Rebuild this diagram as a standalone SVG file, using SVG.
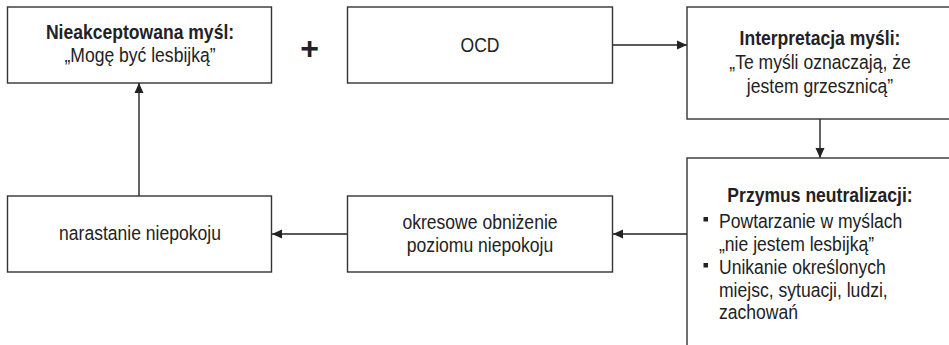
<svg xmlns="http://www.w3.org/2000/svg" width="949" height="345" viewBox="0 0 949 345">
<style>
.box{fill:#fff;stroke:#333;stroke-width:1.4}
.t{font-family:"Liberation Sans",Arial,sans-serif;font-size:19.5px;fill:#222;text-anchor:middle}
.tl{font-family:"Liberation Sans",Arial,sans-serif;font-size:19.5px;fill:#222}
.b{font-weight:bold}
.ln{stroke:#222;stroke-width:1.4;fill:none}
</style>
<defs>
<marker id="ah" markerWidth="10" markerHeight="10" refX="10" refY="5" orient="auto" markerUnits="userSpaceOnUse">
<path d="M0,0.5 L10,5 L0,9.5 Z" fill="#222"/>
</marker>
</defs>
<rect width="949" height="345" fill="#fff"/>
<g id="connectors">
<line class="ln" x1="612" y1="45" x2="687" y2="45" marker-end="url(#ah)"/>
<line class="ln" x1="820" y1="119" x2="820" y2="158" marker-end="url(#ah)"/>
<line class="ln" x1="687" y1="234" x2="613" y2="234" marker-end="url(#ah)"/>
<line class="ln" x1="347" y1="234" x2="272" y2="234" marker-end="url(#ah)"/>
<line class="ln" x1="139" y1="196" x2="139" y2="83" marker-end="url(#ah)"/>
</g>
<g id="node-thought">
<rect class="box" x="7.5" y="7" width="264" height="76"/>
<text class="t b" transform="translate(140 39) scale(0.9 1)">Nieakceptowana myśl:</text>
<text class="t" transform="translate(140 62) scale(0.9 1)">„Mogę być lesbijką”</text>
</g>
<g id="plus">
<text class="t b" x="309.5" y="59" style="font-size:32px">+</text>
</g>
<g id="node-ocd">
<rect class="box" x="347.5" y="7" width="265" height="76"/>
<text class="t" transform="translate(480 52) scale(0.9 1)">OCD</text>
</g>
<g id="node-interpretation">
<rect class="box" x="687" y="7" width="266" height="112"/>
<text class="t b" transform="translate(820 45) scale(0.9 1)">Interpretacja myśli:</text>
<text class="t" transform="translate(820 69) scale(0.9 1)">„Te myśli oznaczają, że</text>
<text class="t" transform="translate(820 93) scale(0.9 1)">jestem grzesznicą”</text>
</g>
<g id="node-compulsion">
<rect class="box" x="687" y="158" width="266" height="200"/>
<text class="t b" transform="translate(820 202) scale(0.9 1)">Przymus neutralizacji:</text>
<rect x="703.5" y="217" width="4.5" height="4.5" fill="#222"/>
<text class="tl" transform="translate(719 228) scale(0.9 1)">Powtarzanie w myślach</text>
<text class="tl" transform="translate(719 251) scale(0.9 1)">„nie jestem lesbijką”</text>
<rect x="703.5" y="263" width="4.5" height="4.5" fill="#222"/>
<text class="tl" transform="translate(719 274) scale(0.9 1)">Unikanie określonych</text>
<text class="tl" transform="translate(719 297) scale(0.9 1)">miejsc, sytuacji, ludzi,</text>
<text class="tl" transform="translate(719 319) scale(0.9 1)">zachowań</text>
</g>
<g id="node-reduction">
<rect class="box" x="347.5" y="196" width="265" height="76"/>
<text class="t" transform="translate(480 229) scale(0.9 1)">okresowe obniżenie</text>
<text class="t" transform="translate(480 252) scale(0.9 1)">poziomu niepokoju</text>
</g>
<g id="node-anxiety">
<rect class="box" x="7.5" y="196" width="264" height="76"/>
<text class="t" transform="translate(140 240) scale(0.9 1)">narastanie niepokoju</text>
</g>
</svg>
